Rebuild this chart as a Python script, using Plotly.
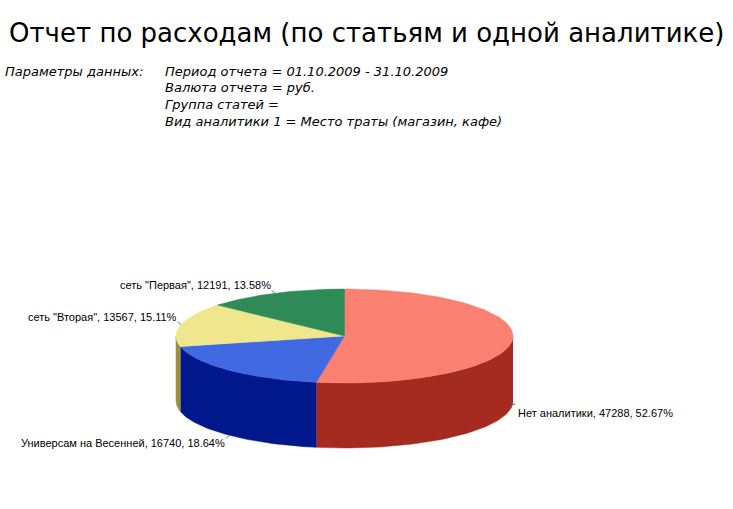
import numpy as np
import plotly.graph_objects as go

# Data
labels = ['Нет аналитики', 'Универсам на Весенней', 'сеть "Вторая"', 'сеть "Первая"']
values = [47288, 16740, 13567, 12191]
top_colors = ['#FA8072', '#4169E1', '#F0E68C', '#2E8B57']
side_colors = ['#A52A1F', '#00188C', '#9C8F3C', '#1E5E3A']

title_text = 'Отчет по расходам (по статьям и одной аналитике)'
param_caption = 'Параметры данных:'
param_lines = ['Период отчета = 01.10.2009 - 31.10.2009',
               'Валюта отчета = руб.',
               'Группа статей =',
               'Вид аналитики 1 = Место траты (магазин, кафе)']

# Pie geometry (pixel space)
W, H = 733, 509
cx, cy = 344.5, 336
rx, ry = 168.5, 47
depth = 65

total = sum(values)
fracs = [v / total for v in values]
bounds = np.concatenate([[0], np.cumsum(fracs)]) * 2 * np.pi  # clockwise from top


def rim(t, dy=0):
    return cx + rx * np.sin(t), cy - ry * np.cos(t) + dy


fig = go.Figure()

# side walls (only front half visible: pi/2 .. 3pi/2)
for i in range(len(values)):
    a0 = max(bounds[i], np.pi / 2)
    a1 = min(bounds[i + 1], 3 * np.pi / 2)
    if a1 <= a0:
        continue
    t = np.linspace(a0, a1, 80)
    x1, y1 = rim(t)
    x2, y2 = rim(t[::-1], depth)
    fig.add_trace(go.Scatter(x=np.concatenate([x1, x2]), y=np.concatenate([y1, y2]),
                             fill='toself', fillcolor=side_colors[i], mode='lines',
                             line=dict(color=side_colors[i], width=0.5),
                             hoverinfo='skip', showlegend=False))

# top faces
for i in range(len(values)):
    t = np.linspace(bounds[i], bounds[i + 1], 120)
    x, y = rim(t)
    fig.add_trace(go.Scatter(x=np.concatenate([[cx], x, [cx]]), y=np.concatenate([[cy], y, [cy]]),
                             fill='toself', fillcolor=top_colors[i], mode='lines',
                             line=dict(color=top_colors[i], width=0.5),
                             hoverinfo='skip', showlegend=False,
                             name=labels[i]))

annotations = []
# slice labels
for i in range(len(values)):
    mid = (bounds[i] + bounds[i + 1]) / 2
    lower = np.cos(mid) < 0
    px, py = rim(mid, depth if lower else 0)
    right = np.sin(mid) > 0
    lx = px + (4 if right else -2)
    ly = py + (8 if lower else -8)
    txt = f'{labels[i]}, {values[i]}, {fracs[i] * 100:.2f}%'
    annotations.append(dict(x=lx, y=ly, xref='x', yref='y', text=txt, showarrow=False,
                            xanchor='left' if right else 'right', yanchor='middle',
                            font=dict(family='Liberation Sans', size=11, color='black')))
    # short leader tick from the rim towards the label
    fig.add_trace(go.Scatter(x=[px, px + (3 if right else -3)],
                             y=[py, py + (-1 if lower and right else 3 if lower else -3)],
                             mode='lines', line=dict(color='#666666', width=1),
                             hoverinfo='skip', showlegend=False))

annotations.append(dict(x=W / 2, y=33, xref='x', yref='y', text=title_text, showarrow=False,
                        xanchor='center', yanchor='middle',
                        font=dict(family='DejaVu Sans', size=26, color='black')))
annotations.append(dict(x=3, y=71, xref='x', yref='y', text='<i>' + param_caption + '</i>',
                        showarrow=False, xanchor='left', yanchor='middle',
                        font=dict(family='DejaVu Sans', size=13, color='black')))
for k, line in enumerate(param_lines):
    annotations.append(dict(x=163, y=71 + k * 16.7, xref='x', yref='y', text='<i>' + line + '</i>',
                            showarrow=False, xanchor='left', yanchor='middle',
                            font=dict(family='DejaVu Sans', size=13, color='black')))

fig.update_layout(width=W, height=H, margin=dict(l=0, r=0, t=0, b=0),
                  paper_bgcolor='white', plot_bgcolor='white',
                  xaxis=dict(range=[0, W], visible=False, fixedrange=True),
                  yaxis=dict(range=[H, 0], visible=False, fixedrange=True),
                  annotations=annotations, showlegend=False)

fig.write_html('out.html', config={'displayModeBar': False},
               post_script="document.body.style.margin='0';")
